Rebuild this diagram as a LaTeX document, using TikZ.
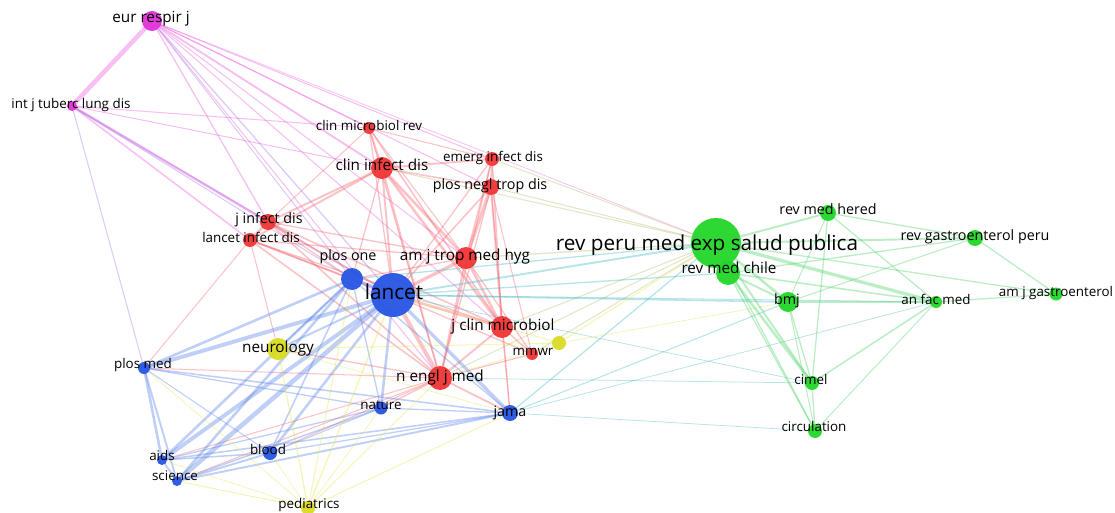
\documentclass[tikz,border=0pt]{standalone}
\usepackage{fontspec}
\setmainfont{Open Sans}
\usetikzlibrary{backgrounds}

\definecolor{vred}{RGB}{240,52,52}
\definecolor{vblue}{RGB}{38,84,228}
\definecolor{vgreen}{RGB}{34,214,40}
\definecolor{vyel}{RGB}{218,218,36}
\definecolor{vmag}{RGB}{226,48,214}
\definecolor{ered}{RGB}{245,105,115}
\definecolor{eblue}{RGB}{95,135,235}
\definecolor{egreen}{RGB}{85,212,110}
\definecolor{eyel}{RGB}{228,228,80}
\definecolor{emag}{RGB}{236,95,222}
\definecolor{eteal}{RGB}{75,188,200}
\definecolor{eolive}{RGB}{185,190,110}
\definecolor{epurp}{RGB}{165,125,232}

\tikzset{
	jnl/.style={circle, inner sep=0pt, draw=none, opacity=0.95},
	lbl/.style={inner sep=0pt, text=black, text height=0.72em, text depth=0.22em},
	lblS/.style={lbl, font=\fontsize{13.4}{13.4}\selectfont},
	lblM/.style={lbl, font=\fontsize{14.3}{14.3}\selectfont},
	lblL/.style={lbl, font=\fontsize{15.3}{15.3}\selectfont},
	lblXL/.style={lbl, font=\fontsize{20.7}{20.7}\selectfont},
	link/.style={opacity=0.4, line cap=round},
}

\begin{document}
\begin{tikzpicture}[x=1pt, y=-1pt]
	\useasboundingbox (0,0) rectangle (1115,513);
	%journals
		\node[jnl, fill=vmag, minimum size=20pt] (eur) at (152,21) {};
		\node[jnl, fill=vmag, minimum size=10pt] (tuberc) at (72,106) {};
		\node[jnl, fill=vred, minimum size=12pt] (cmr) at (369,128) {};
		\node[jnl, fill=vred, minimum size=22pt] (cid) at (382,168) {};
		\node[jnl, fill=vred, minimum size=14pt] (eid) at (492,159) {};
		\node[jnl, fill=vred, minimum size=16pt] (pntd) at (491,187) {};
		\node[jnl, fill=vred, minimum size=16pt] (jid) at (268,222) {};
		\node[jnl, fill=vred, minimum size=14pt] (lid) at (250,240) {};
		\node[jnl, fill=vred, minimum size=22pt] (ajtmh) at (466,258) {};
		\node[jnl, fill=vblue, minimum size=22pt] (plosone) at (352,279) {};
		\node[jnl, fill=vblue, minimum size=44pt] (lancet) at (393,295) {};
		\node[jnl, fill=vred, minimum size=22pt] (jcm) at (502,327) {};
		\node[jnl, fill=vred, minimum size=12pt] (mmwr) at (532,354) {};
		\node[jnl, fill=vyel, minimum size=14pt] (ydot) at (559,343) {};
		\node[jnl, fill=vyel, minimum size=22pt] (neuro) at (278,349) {};
		\node[jnl, fill=vred, minimum size=24pt] (nejm) at (440,378) {};
		\node[jnl, fill=vblue, minimum size=12pt] (plosmed) at (144,368) {};
		\node[jnl, fill=vblue, minimum size=13pt] (nature) at (381,408) {};
		\node[jnl, fill=vblue, minimum size=16pt] (jama) at (510,413) {};
		\node[jnl, fill=vblue, minimum size=14pt] (blood) at (270,453) {};
		\node[jnl, fill=vblue, minimum size=10pt] (aids) at (162,460) {};
		\node[jnl, fill=vblue, minimum size=10pt] (science) at (177,481) {};
		\node[jnl, fill=vyel, minimum size=14pt] (pedi) at (308,508) {};
		\node[jnl, fill=vgreen, minimum size=50pt] (rpmesp) at (716,243) {};
		\node[jnl, fill=vgreen, minimum size=24pt] (rmchile) at (728,273) {};
		\node[jnl, fill=vgreen, minimum size=16pt] (rmhered) at (828,213) {};
		\node[jnl, fill=vgreen, minimum size=16pt] (rgastro) at (975,238) {};
		\node[jnl, fill=vgreen, minimum size=20pt] (bmj) at (788,302) {};
		\node[jnl, fill=vgreen, minimum size=12pt] (anfac) at (936,302) {};
		\node[jnl, fill=vgreen, minimum size=13pt] (ajg) at (1056,294) {};
		\node[jnl, fill=vgreen, minimum size=14pt] (cimel) at (812,383) {};
		\node[jnl, fill=vgreen, minimum size=14pt] (circ) at (815,431) {};

	%labels
		\node[lblL] (eur-t) at (151,20) {eur respir j};
		\node[lblS] (tuberc-t) at (71,106) {int j tuberc lung dis};
		\node[lblS] (cmr-t) at (369,128) {clin microbiol rev};
		\node[lblL] (cid-t) at (382,168) {clin infect dis};
		\node[lblS] (eid-t) at (493,159) {emerg infect dis};
		\node[lblM] (pntd-t) at (490,187) {plos negl trop dis};
		\node[lblM] (jid-t) at (269,221) {j infect dis};
		\node[lblS] (lid-t) at (251,240) {lancet infect dis};
		\node[lblL] (ajtmh-t) at (465,258) {am j trop med hyg};
		\node[lblM] (plosone-t) at (348,258) {plos one};
		\node[lblXL] (lancet-t) at (394,297) {lancet};
		\node[lblL] (jcm-t) at (503,328) {j clin microbiol};
		\node[lblS] (mmwr-t) at (533,353) {mmwr};
		\node[lblL] (neuro-t) at (278,350) {neurology};
		\node[lblL] (nejm-t) at (440,379) {n engl j med};
		\node[lblS] (plosmed-t) at (143,366) {plos med};
		\node[lblS] (nature-t) at (381,407) {nature};
		\node[lblM] (jama-t) at (510,414) {jama};
		\node[lblS] (blood-t) at (268,452) {blood};
		\node[lblS] (aids-t) at (162,458) {aids};
		\node[lblS] (science-t) at (175,478) {science};
		\node[lblS] (pedi-t) at (309,506) {pediatrics};
		\node[lblXL] (rpmesp-t) at (707,248) {rev peru med exp salud publica};
		\node[lblL] (rmchile-t) at (729,271) {rev med chile};
		\node[lblM] (rmhered-t) at (828,212) {rev med hered};
		\node[lblM] (rgastro-t) at (975,238) {rev gastroenterol peru};
		\node[lblM] (bmj-t) at (787,302) {bmj};
		\node[lblS] (anfac-t) at (936,302) {an fac med};
		\node[lblS] (ajg-t) at (1056,294) {am j gastroenterol};
		\node[lblS] (cimel-t) at (811,382) {cimel};
		\node[lblS] (circ-t) at (814,429) {circulation};

	%links
	\begin{pgfonlayer}{background}
		%magenta
		\foreach \a/\b/\w/\c in {eur/tuberc/3.5/emag, eur/cid/1.5/emag, eur/cmr/0.8/emag, eur/eid/0.8/emag,
			eur/pntd/0.8/emag, eur/ajtmh/0.8/emag, eur/jcm/0.8/emag, eur/lancet/1/epurp, eur/plosone/0.8/epurp,
			eur/nejm/0.8/emag, eur/jid/1/emag, eur/rpmesp/0.6/emag, tuberc/jid/2/emag, tuberc/lid/1.2/emag,
			tuberc/cmr/0.8/emag, tuberc/cid/0.8/emag, tuberc/plosmed/0.8/epurp, tuberc/lancet/1/epurp,
			tuberc/plosone/0.8/epurp}
			\draw[link, draw=\c, line width=1.3*\w pt] (\a) -- (\b);
		%red
		\foreach \a/\b/\w/\c in {cid/cmr/1.5/ered, cid/eid/1.5/ered, cid/pntd/1.2/ered, cid/ajtmh/2/ered,
			cid/jcm/2/ered, cid/nejm/1.5/ered, cid/lancet/1.5/ered, cid/jid/1.5/ered, cid/lid/1.5/ered,
			cid/plosone/1/ered, cid/rpmesp/0.8/eolive, cmr/jcm/1.2/ered, cmr/eid/0.8/ered, cmr/lancet/1/ered,
			cmr/jid/0.8/ered, cmr/nejm/0.8/ered, cmr/ajtmh/0.8/ered, eid/pntd/1.5/ered, eid/ajtmh/1.2/ered,
			eid/jcm/1.2/ered, eid/lancet/1/ered, eid/nejm/1/ered, eid/rpmesp/0.8/eolive, pntd/ajtmh/2.5/ered,
			pntd/jcm/1.5/ered, pntd/lancet/1.2/ered, pntd/nejm/1/ered, pntd/mmwr/0.8/ered, pntd/jama/0.8/ered,
			pntd/rpmesp/0.8/eolive, ajtmh/jcm/2/ered, ajtmh/lancet/2.5/ered, ajtmh/nejm/1.5/ered,
			ajtmh/plosone/1/ered, ajtmh/jid/1/ered, ajtmh/lid/1/ered, ajtmh/rpmesp/1/eolive, ajtmh/mmwr/1/ered,
			jid/lid/2/ered, jid/lancet/1.5/ered, jid/nejm/1.2/ered, jid/jcm/1.2/ered, jid/plosone/1/ered,
			lid/lancet/1.5/ered, lid/nejm/1.2/ered, lid/plosone/1/ered, lid/plosmed/0.8/ered, lid/neuro/0.8/ered,
			lid/jcm/1/ered, jcm/nejm/1.5/ered, jcm/lancet/2/ered, jcm/mmwr/1.2/ered, jcm/jama/1/ered,
			jcm/rpmesp/0.8/eolive, nejm/lancet/3/ered, nejm/jama/1.5/ered, nejm/nature/1/ered,
			nejm/plosmed/0.8/ered, nejm/rpmesp/0.8/eolive, nejm/mmwr/1/ered, nejm/neuro/1/ered,
			nejm/blood/0.8/ered, nejm/science/0.8/ered, nejm/aids/0.8/ered, mmwr/rpmesp/0.8/eolive,
			mmwr/lancet/1/ered}
			\draw[link, draw=\c, line width=1.3*\w pt] (\a) -- (\b);
		%blue
		\foreach \a/\b/\w/\c in {lancet/plosone/3/eblue, lancet/plosmed/3/eblue, lancet/aids/3/eblue,
			lancet/science/3.5/eblue, lancet/blood/2/eblue, lancet/nature/2/eblue, lancet/jama/2.5/eblue,
			lancet/neuro/1.5/eblue, lancet/rpmesp/1.5/eteal, lancet/bmj/1.2/eteal, lancet/rmchile/1/eteal,
			lancet/anfac/0.8/eteal, lancet/cimel/0.6/eteal, plosone/plosmed/2/eblue, plosone/aids/2/eblue,
			plosone/science/2/eblue, plosone/blood/1.2/eblue, plosone/nature/1/eblue, plosone/jama/1/eblue,
			plosone/neuro/1/eblue, plosone/rpmesp/1/eteal, plosmed/aids/2/eblue, plosmed/science/1.5/eblue,
			plosmed/nature/1/eblue, plosmed/jama/1.2/eblue, plosmed/blood/0.8/eblue, aids/science/1.5/eblue,
			aids/blood/1.2/eblue, aids/nature/1/eblue, aids/jama/1.2/eblue, science/blood/1.5/eblue,
			science/nature/1.2/eblue, science/jama/1.5/eblue, blood/nature/0.8/eblue, blood/jama/1/eblue,
			nature/jama/1/eblue, jama/rpmesp/1/eteal, jama/bmj/0.8/eteal, jama/circ/0.6/eteal,
			jama/anfac/0.6/eteal}
			\draw[link, draw=\c, line width=1.3*\w pt] (\a) -- (\b);
		%yellow
		\foreach \a/\b/\w/\c in {neuro/pedi/1/eyel, neuro/ydot/0.8/eyel, neuro/jama/0.6/eyel, pedi/nejm/0.8/eyel,
			pedi/jama/0.8/eyel, pedi/nature/0.6/eyel, pedi/plosone/0.8/eyel, pedi/aids/0.6/eyel,
			pedi/plosmed/0.6/eyel, pedi/lancet/1/eyel, pedi/science/0.8/eyel, pedi/blood/0.6/eyel,
			ydot/rpmesp/0.8/eyel, ydot/lancet/0.8/eyel, ydot/bmj/0.6/eyel, ydot/nejm/0.6/eyel}
			\draw[link, draw=\c, line width=1.3*\w pt] (\a) -- (\b);
		%green
		\foreach \a/\b/\w/\c in {rpmesp/rmchile/3/egreen, rpmesp/rmhered/1.5/egreen, rpmesp/rgastro/1.5/egreen,
			rpmesp/bmj/2/egreen, rpmesp/anfac/2.5/egreen, rpmesp/ajg/1/egreen, rpmesp/cimel/1.5/egreen,
			rpmesp/circ/1/egreen, rmchile/bmj/1.5/egreen, rmchile/cimel/2/egreen, rmchile/anfac/1.2/egreen,
			rmchile/rgastro/1/egreen, rmchile/circ/1/egreen, rmhered/rgastro/1/egreen, rmhered/anfac/1/egreen,
			rmhered/cimel/1/egreen, rmhered/bmj/0.8/egreen, rgastro/ajg/1/egreen, rgastro/bmj/0.8/egreen,
			bmj/anfac/1/egreen, bmj/cimel/1/egreen, bmj/circ/0.8/egreen, anfac/ajg/1/egreen,
			anfac/cimel/1.2/egreen, anfac/circ/0.8/egreen, cimel/circ/1/egreen, nejm/cimel/0.6/eteal}
			\draw[link, draw=\c, line width=1.3*\w pt] (\a) -- (\b);
	\end{pgfonlayer}
\end{tikzpicture}
\end{document}
